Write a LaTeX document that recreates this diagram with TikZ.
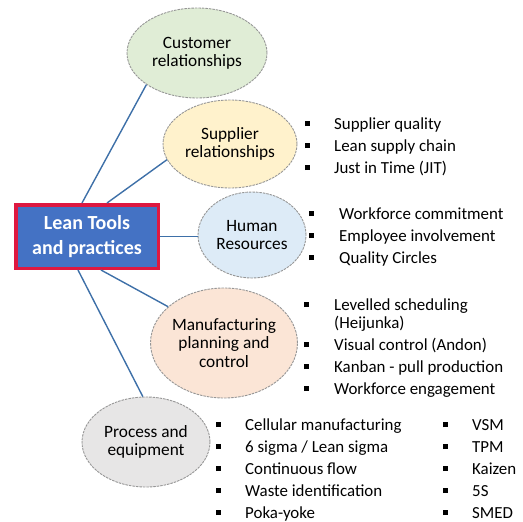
\documentclass[tikz,border=0pt]{standalone}
\usepackage{fontspec}
\setmainfont{Carlito}
\usetikzlibrary{shapes.geometric}
\definecolor{linkblue}{RGB}{62,112,168}
\definecolor{boxblue}{RGB}{68,114,196}
\definecolor{boxred}{RGB}{222,24,64}
\definecolor{edgegray}{RGB}{150,150,150}
\definecolor{fgreen}{RGB}{224,237,214}
\definecolor{fyellow}{RGB}{255,242,204}
\definecolor{fblue}{RGB}{221,235,247}
\definecolor{fpeach}{RGB}{251,229,214}
\definecolor{fgray}{RGB}{231,230,230}
\newcommand{\blt}{\rule[2.8pt]{4.5pt}{5pt}}
\begin{document}
\begin{tikzpicture}[x=1pt,y=-1pt,
  bubble/.style={ellipse, draw=edgegray, line width=0.9pt, dash pattern=on 2.5pt off 1pt,
    inner sep=0pt, align=center, font=\fontsize{17.3}{18.2}\selectfont},
  link/.style={draw=linkblue, line width=1.4pt},
  itemlist/.style={anchor=base west, inner sep=0pt, font=\fontsize{16.9}{22}\selectfont},
  mainbox/.style={rectangle, draw=boxred, fill=boxblue, line width=3.5pt,
    minimum width=142.5pt, minimum height=63.5pt, inner sep=0pt, align=center,
    text=white, font=\fontsize{20}{25}\selectfont\bfseries}]
\useasboundingbox (0,0) rectangle (523,522);

\node[mainbox] (lean) at (87,236.5) {Lean Tools\\and practices};

\node[bubble, fill=fgreen, minimum width=140pt, minimum height=90pt] (cust) at (197,53) {Customer\\relationships};
\node[bubble, fill=fyellow, minimum width=134pt, minimum height=88pt] (supp) at (230,144) {Supplier\\relationships};
\node[bubble, fill=fblue, minimum width=108pt, minimum height=86pt] (hr) at (252,235) {Human\\Resources};
\node[bubble, fill=fpeach, minimum width=144pt, minimum height=110pt] (mfg) at (224,343) {Manufacturing\\planning and\\control};
\node[bubble, fill=fgray, minimum width=128pt, minimum height=90pt] (proc) at (146,442) {Process and\\equipment};

\draw[link] ([xshift=68pt]lean.north west) -- (cust.212);
\draw[link] ([xshift=93pt]lean.north west) -- (supp.194);
\draw[link] (lean.east) -- (lean.east -| hr.west);
\draw[link] ([xshift=87pt]lean.south west) -- (mfg.147);
\draw[link] ([xshift=64pt]lean.south west) -- (proc.94);

\node[itemlist] (slist) at (305,129) {\begin{tabular}[t]{@{}l@{\hspace{24.5pt}}l@{}}
\blt & Supplier quality\\ \blt & Lean supply chain\\ \blt & Just in Time (JIT)\end{tabular}};
\node[itemlist] (hlist) at (309,219) {\begin{tabular}[t]{@{}l@{\hspace{25.5pt}}l@{}}
\blt & Workforce commitment\\ \blt & Employee involvement\\ \blt & Quality Circles\end{tabular}};
\node[itemlist] (mlist) at (304,310) {\begin{tabular}[t]{@{}l@{\hspace{25.5pt}}l@{}}
\blt & Levelled scheduling\\[-4pt] & (Heijunka)\\ \blt & Visual control (Andon)\\ \blt & Kanban - pull production\\ \blt & Workforce engagement\end{tabular}};
\node[itemlist] (plist) at (216,430) {\begin{tabular}[t]{@{}l@{\hspace{24.5pt}}l@{}}
\blt & Cellular manufacturing\\ \blt & 6 sigma / Lean sigma\\ \blt & Continuous flow\\ \blt & Waste identification\\ \blt & Poka-yoke\end{tabular}};
\node[itemlist] (qlist) at (443,430) {\begin{tabular}[t]{@{}l@{\hspace{24.5pt}}l@{}}
\blt & VSM\\ \blt & TPM\\ \blt & Kaizen\\ \blt & 5S\\ \blt & SMED\end{tabular}};
\end{tikzpicture}
\end{document}
